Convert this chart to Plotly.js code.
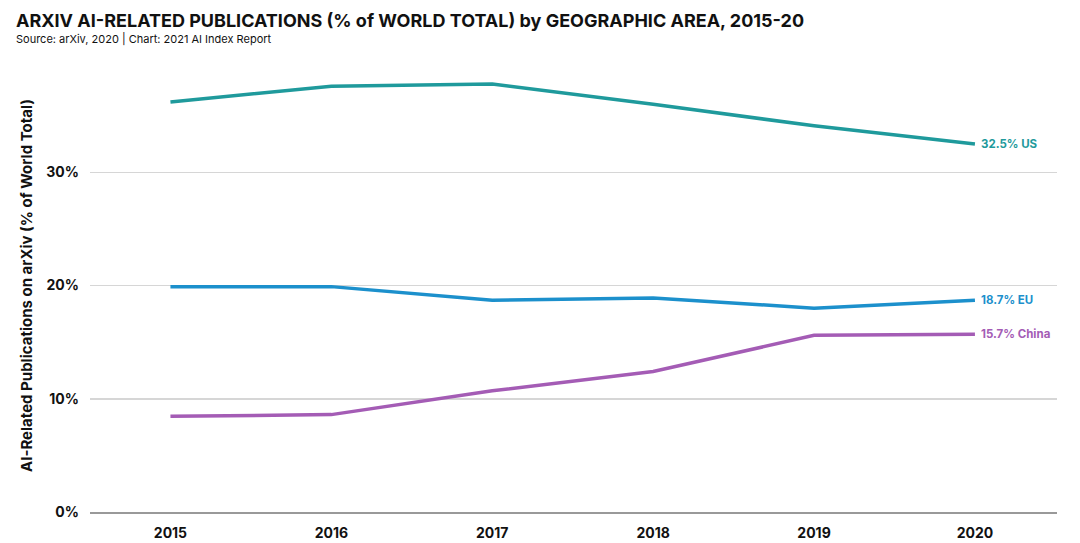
<!DOCTYPE html>
<html>
<head>
<meta charset="utf-8">
<script src="https://cdn.plot.ly/plotly-3.0.1.min.js"></script>
<style>
html,body{margin:0;padding:0;background:#fff;}
#chart{width:1080px;height:543px;}
</style>
</head>
<body>
<div id="chart"></div>
<script>
const years = [2015, 2016, 2017, 2018, 2019, 2020];
const usValues = [36.2, 37.6, 37.8, 36.0, 34.1, 32.5];
const euValues = [19.9, 19.9, 18.7, 18.9, 18.0, 18.7];
const chinaValues = [8.45, 8.6, 10.7, 12.4, 15.6, 15.7];
const seriesNames = ['US', 'EU', 'China'];
const yTickVals = [0, 10, 20, 30];
const yTickText = ['0%', '10%', '20%', '30%'];
const titleText = 'ARXIV AI-RELATED PUBLICATIONS (% of WORLD TOTAL) by GEOGRAPHIC AREA, 2015-20';
const subtitleText = 'Source: arXiv, 2020 | Chart: 2021 AI Index Report';

const colors = {US: '#1f9a9c', EU: '#1c90cc', China: '#a45cb5'};
const FONT = 'Inter, "Liberation Sans", Arial, sans-serif';

const seriesData = {US: usValues, EU: euValues, China: chinaValues};
const traces = seriesNames.map(n => ({
  x: years, y: seriesData[n], type: 'scatter', mode: 'lines', name: n,
  line: {color: colors[n], width: 3.5}, hoverinfo: 'x+y'
}));

const annotations = seriesNames.map(n => {
  const vals = seriesData[n];
  const v = vals[vals.length - 1];
  return {
    x: years[years.length - 1], y: v, xref: 'x', yref: 'y',
    text: v.toFixed(1) + '% ' + n, showarrow: false,
    xanchor: 'left', yanchor: 'middle', xshift: 4,
    font: {family: FONT, size: 11.5, color: colors[n], weight: 700}
  };
});
annotations.push({
  xref: 'paper', yref: 'paper', x: -0.0786, y: 1.086,
  xanchor: 'left', yanchor: 'middle', showarrow: false,
  text: '<b>' + titleText + '</b>',
  font: {family: FONT, size: 18, color: '#111'}
});
annotations.push({
  xref: 'paper', yref: 'paper', x: -0.0786, y: 1.044,
  xanchor: 'left', yanchor: 'middle', showarrow: false,
  text: subtitleText,
  font: {family: FONT, size: 11, color: '#111'}
});

const layout = {
  width: 1080, height: 543,
  paper_bgcolor: '#fff', plot_bgcolor: '#fff',
  margin: {l: 90, r: 23, t: 59, b: 31, pad: 0},
  showlegend: false,
  xaxis: {
    range: [2014.5, 2020.51], tickvals: years, ticktext: years.map(String),
    showgrid: false, zeroline: false, showline: true, linecolor: '#999', linewidth: 2,
    ticks: '', tickfont: {family: FONT, size: 14, color: '#111', weight: 700}, ticklabelstandoff: 7
  },
  yaxis: {
    range: [0, 40], tickvals: yTickVals, ticktext: yTickText,
    showgrid: true, gridcolor: '#d6d6d6', gridwidth: 1.5, zeroline: false, showline: false,
    ticks: '', tickfont: {family: FONT, size: 14, color: '#111', weight: 700}, ticklabelstandoff: 10,
    title: {text: 'AI-Related Publications on arXiv (% of World Total)', standoff: 10,
            font: {family: FONT, size: 15, color: '#111', weight: 700}}
  },
  annotations: annotations
};

Plotly.newPlot('chart', traces, layout, {displayModeBar: false, staticPlot: true});
</script>
</body>
</html>
